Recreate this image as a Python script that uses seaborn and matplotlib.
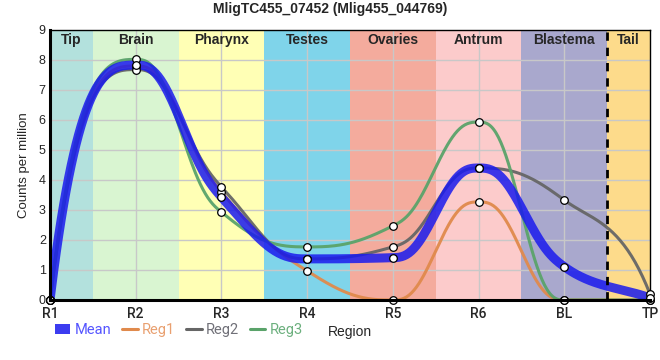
import numpy as np
import pandas as pd
import matplotlib
matplotlib.use("Agg")
import matplotlib.pyplot as plt
import seaborn as sns
from matplotlib.lines import Line2D
from matplotlib.patches import Patch

# data
positions = ["R1", "R2", "R3", "R4", "R5", "R6", "BL", "TP"]
mean_vals = [0.0, 7.83, 3.43, 1.37, 1.41, 4.4, 1.11, 0.07]
reg1_vals = [0.0, 7.8, 3.6, 0.97, 0.0, 3.27, 0.0, 0.0]
reg2_vals = [0.0, 7.68, 3.77, 1.37, 1.77, 4.4, 3.33, 0.2]
reg3_vals = [0.0, 8.02, 2.93, 1.77, 2.47, 5.93, 0.0, 0.0]

regions = ["Tip", "Brain", "Pharynx", "Testes", "Ovaries", "Antrum", "Blastema", "Tail"]
region_edges = [0, 0.5, 1.5, 2.5, 3.5, 4.5, 5.5, 6.5, 7]
region_colors = ["#b3e1dd", "#d9f5d1", "#ffffb5", "#7fd4ea", "#f4ab9d",
                 "#fccbcb", "#a9a8cd", "#fddb8b"]

series = {"Mean": mean_vals, "Reg1": reg1_vals, "Reg2": reg2_vals, "Reg3": reg3_vals}
colors = {"Mean": "#1a1aee", "Reg1": "#e08a4c", "Reg2": "#666666", "Reg3": "#5aa36a"}
text_colors = {"Mean": "#5555ff", "Reg1": "#e9a070", "Reg2": "#707078", "Reg3": "#6cb07e"}


def smooth(x, y, n=70):
    # monotone tangents + hermite segments, only used to draw the smooth line
    x = np.asarray(x, float)
    y = np.asarray(y, float)
    h = np.diff(x)
    s = np.diff(y) / h
    t = np.zeros_like(y)
    for i in range(1, len(y) - 1):
        if s[i - 1] * s[i] > 0:
            p = (s[i - 1] * h[i] + s[i] * h[i - 1]) / (h[i - 1] + h[i])
            t[i] = (np.sign(s[i - 1]) + np.sign(s[i])) * min(abs(s[i - 1]), abs(s[i]), 0.5 * abs(p))
    t[0] = 3 * s[0] - t[1]
    t[-1] = 3 * s[-1] - t[-2]
    u = np.linspace(0, 1, n)
    xs, ys = [], []
    last = len(x) - 2
    for i in range(len(x) - 1):
        if i == 0 or i == last:
            # cubic on the end pieces
            H1 = 3 * u**2 - 2 * u**3
            G0 = u - 2 * u**2 + u**3
            G1 = u**3 - u**2
        else:
            H1 = 10 * u**3 - 15 * u**4 + 6 * u**5
            G0 = u - 6 * u**3 + 8 * u**4 - 3 * u**5
            G1 = -4 * u**3 + 7 * u**4 - 3 * u**5
        xs.append(x[i] + u * h[i])
        ys.append(y[i] + (y[i + 1] - y[i]) * H1 + h[i] * (t[i] * G0 + t[i + 1] * G1))
    return np.concatenate(xs), np.concatenate(ys)


sns.set_style("white")
fig = plt.figure(figsize=(6.6, 3.6), dpi=100)
ax = fig.add_axes([50 / 660, 60 / 360, 600 / 660, 270 / 360])

xpos = np.arange(len(positions))

# region bands
for i, name in enumerate(regions):
    ax.axvspan(region_edges[i], region_edges[i + 1], color=region_colors[i], zorder=0, lw=0)
    ax.text((region_edges[i] + region_edges[i + 1]) / 2, 8.68, name, ha="center", va="center",
            fontsize=10, fontweight="bold", family="Liberation Sans", zorder=5)
ax.axvline(6.5, color="black", lw=2, ls=(0, (3, 2.5)), zorder=4)

# grid
for yv in range(1, 9):
    ax.axhline(yv, color="#c8c8c8", lw=1, zorder=0.5)
for xv in xpos[1:-1]:
    ax.axvline(xv, color="#c8c8c8", lw=1, zorder=0.5)

# curves
order = ["Reg1", "Reg2", "Reg3", "Mean"]
for name in order:
    sx, sy = smooth(xpos, series[name])
    df = pd.DataFrame({"x": sx, "y": sy})
    if name == "Mean":
        sns.lineplot(data=df, x="x", y="y", ax=ax, sort=False, color=colors[name], lw=6.5,
                     alpha=0.85, zorder=3, solid_capstyle="butt")
    else:
        sns.lineplot(data=df, x="x", y="y", ax=ax, sort=False, color=colors[name], lw=2.2,
                     alpha=0.95, zorder=2)

for name in order:
    sns.scatterplot(x=xpos, y=series[name], ax=ax, s=30, color="white", edgecolor="black",
                    linewidth=0.9, zorder=6, clip_on=False)

ax.set_xlim(0, 7)
ax.set_ylim(0, 9)
ax.set_xticks(xpos)
ax.set_xticklabels(positions, family="Roboto", fontsize=10, fontweight="medium")
ax.set_yticks(range(10))
ax.set_yticklabels([str(v) for v in range(10)], family="Liberation Sans", fontsize=9)
ax.tick_params(axis="y", length=0, pad=3)
ax.tick_params(axis="x", length=3, width=1, color="black", pad=2, direction="out")
ax.set_xlabel("Region", family="Liberation Sans", fontsize=10, labelpad=3)
ax.set_ylabel("Counts per million", family="Liberation Sans", fontsize=9.5, labelpad=6)
for side in ["left", "bottom"]:
    ax.spines[side].set_linewidth(2.2)
    ax.spines[side].set_color("black")
    ax.spines[side].set_zorder(7)
for side in ["top", "right"]:
    ax.spines[side].set_linewidth(1)
    ax.spines[side].set_color("black")

fig.suptitle("MligTC455_07452 (Mlig455_044769)", x=0.5, y=0.995, va="top",
             family="Liberation Sans", fontweight="bold", fontsize=10)

handles = [Patch(facecolor=colors["Mean"], alpha=0.85, edgecolor="none")]
for name in ["Reg1", "Reg2", "Reg3"]:
    handles.append(Line2D([0], [0], color=colors[name], lw=2.2))
leg = fig.legend(handles, list(series.keys()), loc="center left",
                 bbox_to_anchor=(55 / 660, 1 - 330 / 360), ncol=4, frameon=False,
                 prop={"family": "Roboto", "size": 10.5}, handlelength=1.05, handletextpad=0.3,
                 columnspacing=0.75, handleheight=0.75, borderpad=0, borderaxespad=0)
for txt, name in zip(leg.get_texts(), series.keys()):
    txt.set_color(text_colors[name])

fig.savefig("out.png", dpi=100)
